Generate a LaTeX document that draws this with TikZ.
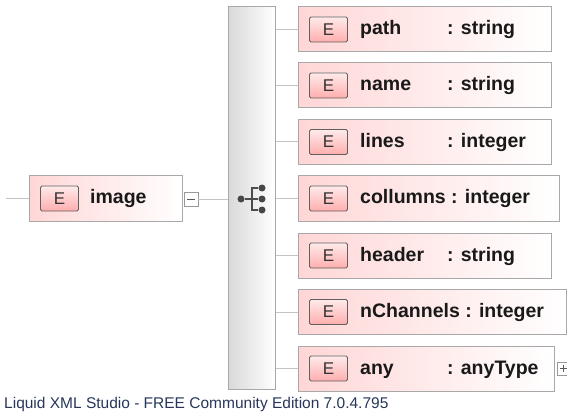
\documentclass[tikz,border=0pt]{standalone}
\usepackage{fontspec}
\setmainfont{Liberation Sans}
\usetikzlibrary{positioning}
\definecolor{boxline}{HTML}{A8A8A8}
\definecolor{wiregray}{HTML}{C4C4C4}
\definecolor{boxpink}{HTML}{FFD6D6}
\definecolor{footblue}{HTML}{27365A}

\begin{document}
\begin{tikzpicture}[x=1pt, y=-1pt]

\tikzstyle{elem}=[rectangle, draw=boxline, line width=1pt, left color=boxpink, right color=white, minimum height=45pt, inner sep=0pt, anchor=west]
\tikzstyle{badge}=[rectangle, draw=gray!75!black, line width=0.9pt, rounded corners=1.5pt, top color=red!8, bottom color=red!32, minimum width=38pt, minimum height=25pt, inner sep=0pt, font=\fontsize{17}{17}\selectfont, text=black!80]
\tikzstyle{lbl}=[inner sep=0pt, text height=15pt, text depth=4pt, font=\fontsize{19.5}{20}\selectfont\bfseries, text=black!90]
\tikzstyle{wire}=[draw=wiregray, line width=1pt]
\tikzstyle{toggle}=[rectangle, draw=gray!80, fill=white, minimum size=13pt, inner sep=0pt]
\tikzstyle{dot}=[circle, fill=black!72, inner sep=0pt, minimum size=7pt]

\useasboundingbox (0,0) rectangle (567,414);

% parent element
\coordinate (in) at (6,198.5);
\node (image) [elem, minimum width=153pt] at (29,198.5) {};
\node (imageE) [badge, right=11pt of image.west] {E};
\node (imageL) [lbl, right=61pt of image.west] {image};
\node (fold) [toggle, minimum size=14pt] at (191,199) {};
\draw [gray!70!black, line width=0.8pt] ([xshift=3pt]fold.west) -- ([xshift=-3pt]fold.east);

% sequence compartment
\node (seq) [rectangle, draw=boxline, line width=1pt, left color=gray!30, right color=white, minimum width=47pt, minimum height=382pt, inner sep=0pt] at (251.5,198) {};
\node (root) [dot] at (241,199) {};
\node (d1) [dot] at (262,188) {};
\node (d2) [dot] at (262,199) {};
\node (d3) [dot] at (262,210) {};
\coordinate (bar) at (252,199);
\draw [black!70, line width=1.3pt] (root) -- (d2);
\draw [black!70, line width=1.3pt] (d1) -| (bar) |- (d3);

\draw [wire] (in) -- (image.west);
\draw [wire] (fold.east) -- (seq.west |- fold.east);

% children
\node (path) [elem, minimum width=253pt] at (298,29.5) {};
\node (pathE) [badge, right=11pt of path.west] {E};
\node (pathL) [lbl, right=62pt of path.west] {\makebox[87pt][l]{path}: string};

\node (name) [elem, minimum width=253pt] at (298,85.5) {};
\node (nameE) [badge, right=11pt of name.west] {E};
\node (nameL) [lbl, right=62pt of name.west] {\makebox[87pt][l]{name}: string};

\node (lines) [elem, minimum width=253pt] at (298,142) {};
\node (linesE) [badge, right=11pt of lines.west] {E};
\node (linesL) [lbl, right=62pt of lines.west] {\makebox[87pt][l]{lines}: integer};

\node (collumns) [elem, minimum width=261pt] at (298,198.5) {};
\node (collumnsE) [badge, right=11pt of collumns.west] {E};
\node (collumnsL) [lbl, right=62pt of collumns.west] {collumns : integer};

\node (header) [elem, minimum width=253pt] at (298,255.5) {};
\node (headerE) [badge, right=11pt of header.west] {E};
\node (headerL) [lbl, right=62pt of header.west] {\makebox[87pt][l]{header}: string};

\node (nChannels) [elem, minimum width=268pt] at (298,312) {};
\node (nChannelsE) [badge, right=11pt of nChannels.west] {E};
\node (nChannelsL) [lbl, right=62pt of nChannels.west] {nChannels : integer};

\node (any) [elem, minimum width=256pt] at (298,368.5) {};
\node (anyE) [badge, right=11pt of any.west] {E};
\node (anyL) [lbl, right=62pt of any.west] {\makebox[87pt][l]{any}: anyType};
\node (more) [toggle] at (563.5,368.5) {};
\draw [gray!70!black, line width=0.8pt] ([xshift=3pt]more.west) -- ([xshift=-3pt]more.east);
\draw [gray!70!black, line width=0.8pt] ([yshift=-3pt]more.north) -- ([yshift=3pt]more.south);

\draw [wire] (seq.east |- path.west) -- (path.west);
\draw [wire] (seq.east |- name.west) -- (name.west);
\draw [wire] (seq.east |- lines.west) -- (lines.west);
\draw [wire] (seq.east |- collumns.west) -- (collumns.west);
\draw [wire] (seq.east |- header.west) -- (header.west);
\draw [wire] (seq.east |- nChannels.west) -- (nChannels.west);
\draw [wire] (seq.east |- any.west) -- (any.west);

\node (footer) [anchor=base west, inner sep=0pt, font=\fontsize{15.5}{16}\selectfont, text=footblue] at (4,408) {Liquid XML Studio - FREE Community Edition 7.0.4.795};

\end{tikzpicture}
\end{document}
